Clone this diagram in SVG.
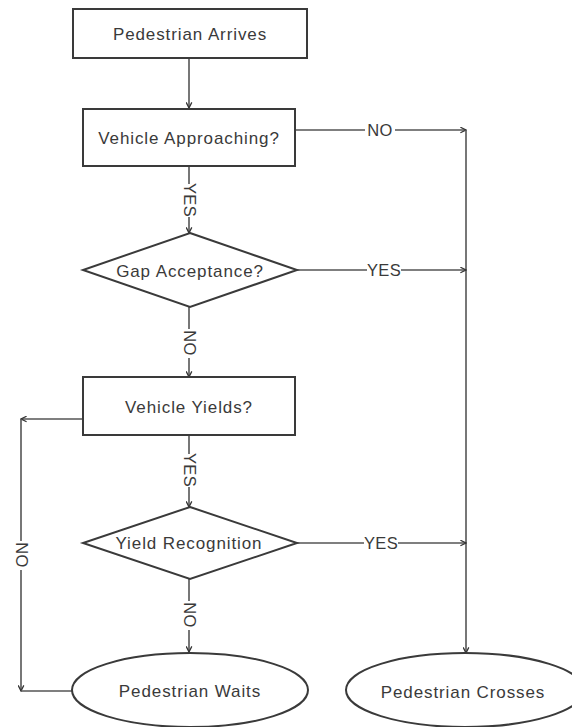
<svg xmlns="http://www.w3.org/2000/svg" width="572" height="727" viewBox="0 0 572 727">
  <style>
    .shape { fill: #ffffff; stroke: #3a3a3a; stroke-width: 2; }
    .txt { font-family: "Liberation Sans", Arial, sans-serif; font-size: 17px; letter-spacing: 0.9px; fill: #3a3a3a; text-anchor: middle; dominant-baseline: central; }
    .line { fill: none; stroke: #555555; stroke-width: 1.6; }
    .arrow { marker-end: url(#arr); }
    .lbl { font-family: "Liberation Sans", Arial, sans-serif; font-size: 16.5px; letter-spacing: 0.4px; fill: #3a3a3a; text-anchor: middle; dominant-baseline: central; }
    .lblbg { fill: #ffffff; }
  </style>
  <defs>
    <marker id="arr" viewBox="0 0 10 10" refX="9" refY="5" markerWidth="7" markerHeight="7" markerUnits="userSpaceOnUse" orient="auto">
      <path d="M1,1 L9,5 L1,9" fill="none" stroke="#333333" stroke-width="1.8"/>
    </marker>
  </defs>
  <rect width="572" height="727" fill="#ffffff"/>

  <g id="connectors">
    <line class="line arrow" x1="189" y1="58" x2="189" y2="108"/>
    <line class="line arrow" x1="295" y1="130" x2="466" y2="130"/>
    <line class="line arrow" x1="466" y1="130" x2="466" y2="653"/>
    <line class="line arrow" x1="189" y1="166" x2="189" y2="233"/>
    <line class="line arrow" x1="297" y1="270" x2="466" y2="270"/>
    <line class="line arrow" x1="189" y1="307" x2="189" y2="377"/>
    <line class="line arrow" x1="83" y1="419" x2="21" y2="419"/>
    <line class="line arrow" x1="21" y1="419" x2="21" y2="691"/>
    <line class="line" x1="72" y1="691" x2="21" y2="691"/>
    <line class="line arrow" x1="189" y1="435" x2="189" y2="507"/>
    <line class="line arrow" x1="297" y1="543" x2="466" y2="543"/>
    <line class="line arrow" x1="189" y1="579" x2="189" y2="652"/>

    <g id="labels">
      <rect class="lblbg" x="365" y="122" width="30" height="16"/>
      <text class="lbl" x="380" y="130">NO</text>
      <rect class="lblbg" x="182" y="184" width="16" height="33"/>
      <text class="lbl" transform="translate(190,200) rotate(90)">YES</text>
      <rect class="lblbg" x="367" y="262" width="34" height="16"/>
      <text class="lbl" x="384" y="270">YES</text>
      <rect class="lblbg" x="182" y="329" width="16" height="29"/>
      <text class="lbl" transform="translate(190,343) rotate(90)">NO</text>
      <rect class="lblbg" x="14" y="541" width="16" height="29"/>
      <text class="lbl" transform="translate(22,555) rotate(90)">NO</text>
      <rect class="lblbg" x="182" y="454" width="16" height="33"/>
      <text class="lbl" transform="translate(190,470) rotate(90)">YES</text>
      <rect class="lblbg" x="364" y="535" width="34" height="16"/>
      <text class="lbl" x="381" y="543">YES</text>
      <rect class="lblbg" x="182" y="601" width="16" height="29"/>
      <text class="lbl" transform="translate(190,615) rotate(90)">NO</text>
    </g>
  </g>

  <g id="pedestrian-arrives">
    <rect class="shape" x="73" y="9" width="234" height="49"/>
    <text class="txt" x="190" y="34">Pedestrian Arrives</text>
  </g>
  <g id="vehicle-approaching">
    <rect class="shape" x="83" y="109" width="212" height="57"/>
    <text class="txt" x="189" y="138">Vehicle Approaching?</text>
  </g>
  <g id="gap-acceptance">
    <polygon class="shape" points="190,233 297,270 190,307 83,270"/>
    <text class="txt" x="190" y="271">Gap Acceptance?</text>
  </g>
  <g id="vehicle-yields">
    <rect class="shape" x="83" y="377" width="212" height="58"/>
    <text class="txt" x="189" y="407">Vehicle Yields?</text>
  </g>
  <g id="yield-recognition">
    <polygon class="shape" points="190,507 297,543 190,579 83,543"/>
    <text class="txt" x="189" y="543">Yield Recognition</text>
  </g>
  <g id="pedestrian-waits">
    <ellipse class="shape" cx="190" cy="690" rx="118" ry="37"/>
    <text class="txt" x="190" y="691">Pedestrian Waits</text>
  </g>
  <g id="pedestrian-crosses">
    <ellipse class="shape" cx="465" cy="690" rx="119" ry="37"/>
    <text class="txt" x="463" y="692">Pedestrian Crosses</text>
  </g>
</svg>
